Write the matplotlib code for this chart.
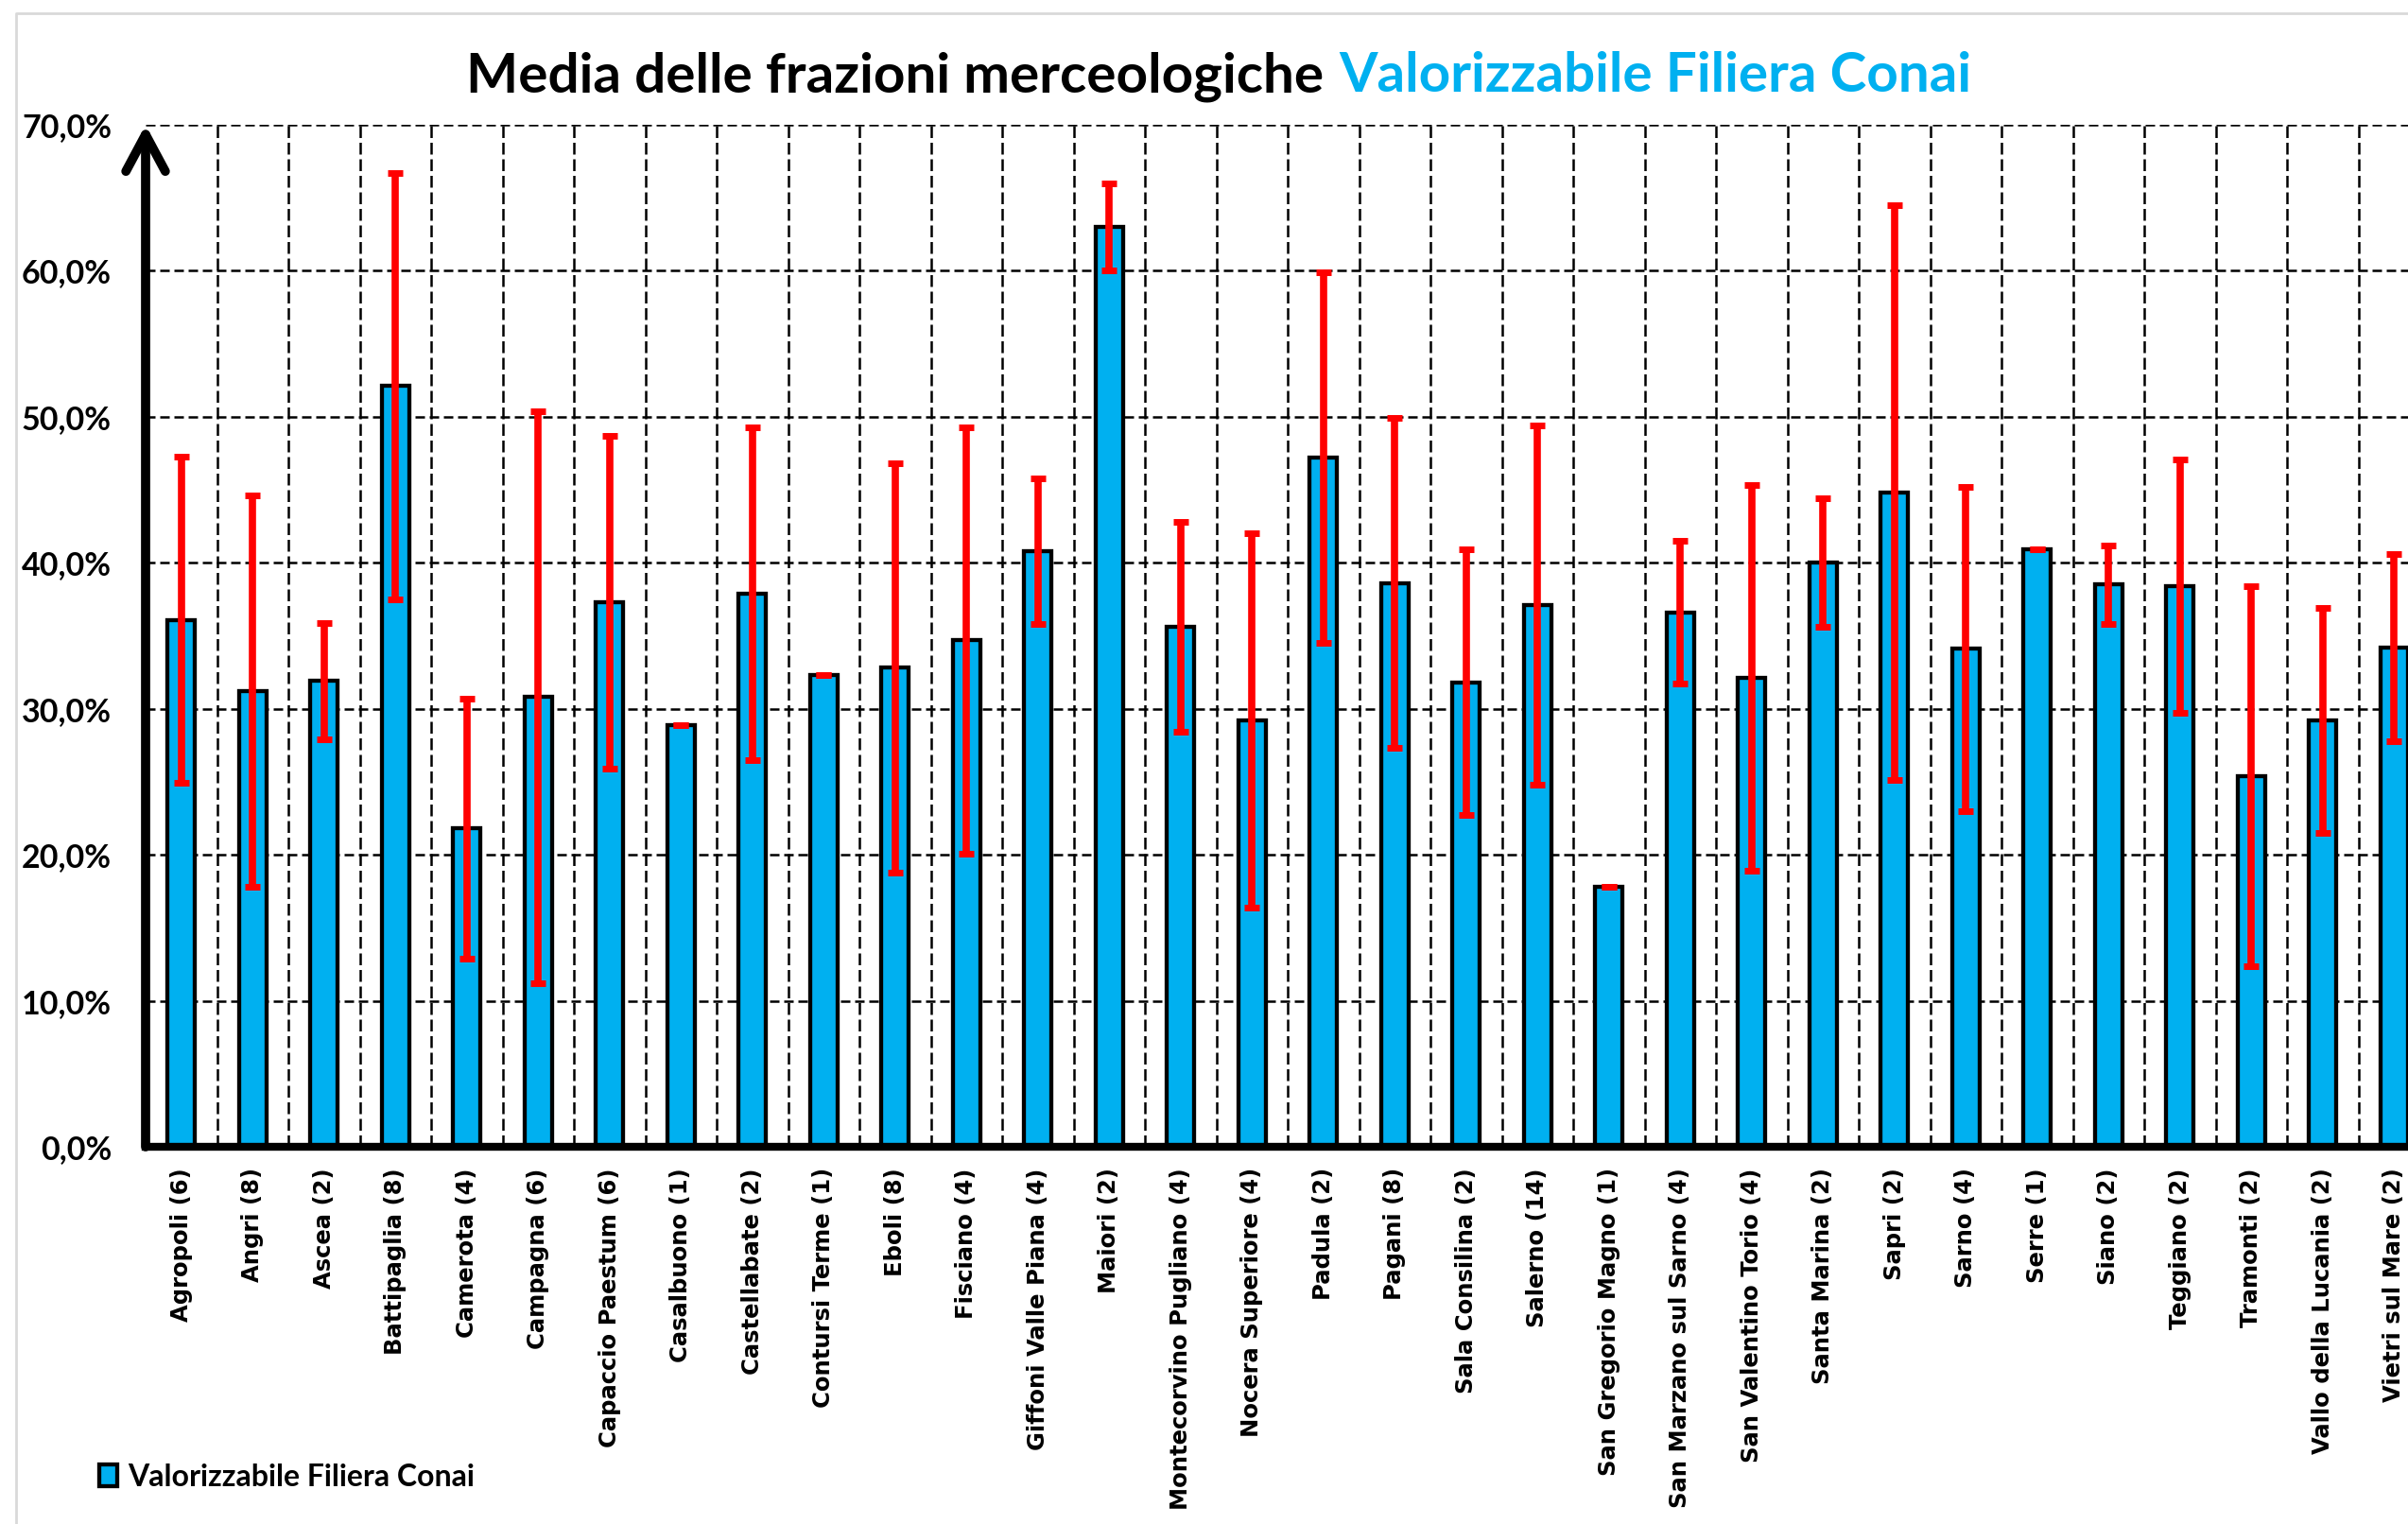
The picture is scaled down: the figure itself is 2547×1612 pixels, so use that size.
import matplotlib
matplotlib.use("Agg")
import matplotlib.pyplot as plt
import numpy as np
from matplotlib.lines import Line2D
from matplotlib.ticker import FuncFormatter, MultipleLocator

# Dati: media (%) e deviazione standard (%) per comune
comuni = [
    "Agropoli (6)", "Angri (8)", "Ascea (2)", "Battipaglia (8)", "Camerota (4)",
    "Campagna (6)", "Capaccio Paestum (6)", "Casalbuono (1)", "Castellabate (2)",
    "Contursi Terme (1)", "Eboli (8)", "Fisciano (4)", "Giffoni Valle Piana (4)",
    "Maiori (2)", "Montecorvino Pugliano (4)", "Nocera Superiore (4)", "Padula (2)",
    "Pagani (8)", "Sala Consilina (2)", "Salerno (14)", "San Gregorio Magno (1)",
    "San Marzano sul Sarno (4)", "San Valentino Torio (4)", "Santa Marina (2)",
    "Sapri (2)", "Sarno (4)", "Serre (1)", "Siano (2)", "Teggiano (2)",
    "Tramonti (2)", "Vallo della Lucania (2)", "Vietri sul Mare (2)",
]
media = [
    36.1, 31.2, 31.9, 52.1, 21.8, 30.8, 37.3, 28.9, 37.9, 32.3, 32.8, 34.7,
    40.8, 63.0, 35.6, 29.2, 47.2, 38.6, 31.8, 37.1, 17.8, 36.6, 32.1, 40.0,
    44.8, 34.1, 40.9, 38.5, 38.4, 25.4, 29.2, 34.2,
]
dev_std = [
    11.2, 13.4, 4.0, 14.6, 8.9, 19.6, 11.4, 0.0, 11.4, 0.0, 14.0, 14.6,
    5.0, 3.0, 7.2, 12.8, 12.7, 11.3, 9.1, 12.3, 0.0, 4.9, 13.2, 4.4,
    19.7, 11.1, 0.0, 2.7, 8.7, 13.0, 7.7, 6.4,
]

BLU = "#00B0F0"
ROSSO = "#FF0000"
W, H = 2547, 1612

fig = plt.figure(figsize=(W / 100, H / 100), dpi=100)
ax = fig.add_axes([154 / W, 399 / H, 2416 / W, 1081 / H])

x = np.arange(len(comuni))
ax.bar(x, media, width=0.39, color=BLU, edgecolor="black", linewidth=3.1,
       zorder=3, label="Valorizzabile Filiera Conai")
ax.errorbar(x, media, yerr=dev_std, fmt="none", ecolor=ROSSO, elinewidth=5.5,
            capsize=6, capthick=5, zorder=4, label="_nolegend_")

ax.set_xlim(-0.5, len(comuni) - 0.5)
ax.set_ylim(0, 70)
ax.yaxis.set_major_locator(MultipleLocator(10))
ax.yaxis.set_major_formatter(FuncFormatter(lambda v, p: f"{v:.1f}%".replace(".", ",")))
ax.set_xticks(x)
ax.set_xticklabels(comuni, rotation=90, fontsize=17.5, fontweight="bold", family="DejaVu Sans")
ax.set_xticks(x[:-1] + 0.5, minor=True)

ax.grid(axis="y", which="major", color="black", linestyle=(0, (4, 2)), linewidth=1.8)
ax.grid(axis="x", which="minor", color="black", linestyle=(0, (5, 2)), linewidth=1.8)
ax.grid(axis="x", which="major", visible=False)
ax.set_axisbelow(True)

ax.tick_params(axis="both", which="both", length=0)
ax.tick_params(axis="x", pad=16)
ax.tick_params(axis="y", pad=26)
for lab in ax.get_yticklabels():
    lab.set_fontfamily("Lato")
    lab.set_fontweight("bold")
    lab.set_fontsize(24.5)

for side in ["top", "right", "left"]:
    ax.spines[side].set_visible(False)
ax.spines["bottom"].set_linewidth(6)
ax.spines["bottom"].set_color("black")
ax.spines["bottom"].set_zorder(5)

# asse y come freccia
ax.annotate("", xy=(-0.5, 70), xytext=(-0.5, 0), xycoords="data",
            arrowprops=dict(arrowstyle="->,head_length=2.8,head_width=1.5", lw=7,
                            color="black", shrinkA=0, shrinkB=0),
            annotation_clip=False, zorder=6)

ax.legend(loc="center left", bbox_to_anchor=(105 / W, 1 - 1562 / H),
          bbox_transform=fig.transFigure, frameon=False,
          prop={"family": "Lato", "weight": "bold", "size": 23},
          handlelength=0.6, handleheight=0.7, handletextpad=0.35,
          borderpad=0, borderaxespad=0)

# cornice grigia dell'area grafico
fig.add_artist(Line2D([17 / W, 17 / W, 1.01], [-0.01, 1 - 14 / H, 1 - 14 / H],
                      transform=fig.transFigure, color="#D9D9D9", lw=2))

# titolo in due colori
fig.text(1400 / W, 1 - 97 / H, "Media delle frazioni merceologiche", ha="right",
         va="baseline", fontsize=42, fontweight="bold", family="Lato", color="black")
fig.text(1416 / W, 1 - 97 / H, "Valorizzabile Filiera Conai", ha="left",
         va="baseline", fontsize=42, fontweight="bold", family="Lato", color=BLU)

fig.savefig("out.png", dpi=100, facecolor="white")
